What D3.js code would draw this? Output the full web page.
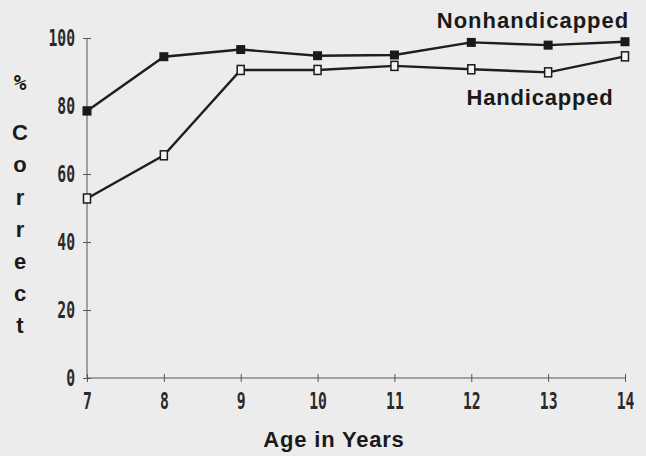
<!DOCTYPE html>
<html>
<head>
<meta charset="utf-8">
<script src="https://cdn.jsdelivr.net/npm/d3@7"></script>
<style>
  body { margin: 0; background: #ececec; }
  svg { display: block; }
</style>
</head>
<body>
<div id="chart"></div>
<script>
// data
var ages = [7, 8, 9, 10, 11, 12, 13, 14];
var nonhandicapped = [78.5, 94.5, 96.6, 94.8, 95.0, 98.7, 97.9, 98.9];
var handicapped = [52.8, 65.5, 90.6, 90.6, 91.8, 90.8, 89.9, 94.6];
var yTicks = [0, 20, 40, 60, 80, 100];
var yLetters = ["%", "C", "o", "r", "r", "e", "c", "t"];

var svgWidth = 646;
var svgHeight = 456;
var margin = { top: 38, right: 21, bottom: 78, left: 87 };
var width = svgWidth - margin.left - margin.right;
var height = svgHeight - margin.top - margin.bottom;

var svg = d3.select("#chart")
  .append("svg")
  .attr("width", svgWidth)
  .attr("height", svgHeight);

svg.append("rect")
  .attr("width", svgWidth)
  .attr("height", svgHeight)
  .attr("fill", "#ececec");

var chartGroup = svg.append("g")
  .attr("transform", `translate(${margin.left}, ${margin.top})`);

var xScale = d3.scaleLinear().domain([7, 14]).range([0, width]);
var yScale = d3.scaleLinear().domain([0, 100]).range([height, 0]);

var monoFont = "'DejaVu Sans Mono', monospace";
var boldFont = "Arial, 'Liberation Sans', sans-serif";
var squeeze = 0.64; // the old screen font is tall and narrow

// y axis
var yAxis = d3.axisLeft(yScale)
  .tickValues(yTicks)
  .tickFormat(d3.format("d"))
  .tickSize(4);
var yAxisG = chartGroup.append("g").call(yAxis);
yAxisG.select(".domain").attr("stroke", "#555").attr("d", `M0,${height}V0`);
yAxisG.selectAll(".tick line").attr("x1", -4).attr("x2", 4).attr("stroke", "#555");
yAxisG.selectAll(".tick text")
  .attr("font-family", monoFont)
  .attr("font-weight", "bold")
  .attr("font-size", "23px")
  .attr("fill", "#2a2a2a")
  .attr("x", -12 / squeeze)
  .attr("dy", "0.34em")
  .attr("transform", `scale(${squeeze},1)`);

// x axis
var xAxis = d3.axisBottom(xScale)
  .tickValues(ages)
  .tickFormat(d3.format("d"))
  .tickSize(4);
var xAxisG = chartGroup.append("g")
  .attr("transform", `translate(0, ${height})`)
  .call(xAxis);
xAxisG.select(".domain").attr("stroke", "#555").attr("d", `M0,0H${width}`);
xAxisG.selectAll(".tick line").attr("y1", -4).attr("y2", 4).attr("stroke", "#555");
xAxisG.selectAll(".tick text")
  .attr("font-family", monoFont)
  .attr("font-weight", "bold")
  .attr("font-size", "23px")
  .attr("fill", "#2a2a2a")
  .attr("y", 15)
  .attr("transform", `scale(${squeeze},1)`);

// lines
var line = d3.line()
  .x((d, i) => xScale(ages[i]))
  .y(d => yScale(d));

[nonhandicapped, handicapped].forEach(function(series) {
  chartGroup.append("path")
    .datum(series)
    .attr("d", line)
    .attr("fill", "none")
    .attr("stroke", "#1e1e1e")
    .attr("stroke-width", 2.4);
});

// markers
chartGroup.selectAll(".nh-mark")
  .data(nonhandicapped)
  .enter()
  .append("rect")
  .attr("class", "nh-mark")
  .attr("x", (d, i) => xScale(ages[i]) - 4.5)
  .attr("y", d => yScale(d) - 4.5)
  .attr("width", 9)
  .attr("height", 9)
  .attr("fill", "#1a1a1a");

chartGroup.selectAll(".h-mark")
  .data(handicapped)
  .enter()
  .append("rect")
  .attr("class", "h-mark")
  .attr("x", (d, i) => xScale(ages[i]) - 3.5)
  .attr("y", d => yScale(d) - 4.5)
  .attr("width", 7)
  .attr("height", 9)
  .attr("fill", "#f4f4f4")
  .attr("stroke", "#1a1a1a")
  .attr("stroke-width", 1.5);

// series labels
svg.append("text")
  .attr("x", 533)
  .attr("y", 28)
  .attr("text-anchor", "middle")
  .attr("font-family", boldFont)
  .attr("font-weight", "bold")
  .attr("font-size", "22px")
  .attr("letter-spacing", "1px")
  .attr("fill", "#1a1a1a")
  .text("Nonhandicapped");

svg.append("text")
  .attr("x", 540)
  .attr("y", 105)
  .attr("text-anchor", "middle")
  .attr("font-family", boldFont)
  .attr("font-weight", "bold")
  .attr("font-size", "22px")
  .attr("letter-spacing", "0.8px")
  .attr("fill", "#1a1a1a")
  .text("Handicapped");

// y title, one letter per row
svg.selectAll(".ylabel")
  .data(yLetters)
  .enter()
  .append("text")
  .attr("class", "ylabel")
  .attr("x", 20)
  .attr("y", (d, i) => i === 0 ? 90 : 108 + i * 32.2)
  .attr("text-anchor", "middle")
  .attr("font-family", d => d === "%" ? monoFont : boldFont)
  .attr("font-weight", "bold")
  .attr("font-size", d => d === "%" ? "21px" : "22px")
  .attr("fill", "#1a1a1a")
  .text(d => d);

// x title
svg.append("text")
  .attr("x", 334)
  .attr("y", 447)
  .attr("text-anchor", "middle")
  .attr("font-family", boldFont)
  .attr("font-weight", "bold")
  .attr("font-size", "22px")
  .attr("letter-spacing", "0.8px")
  .attr("fill", "#1a1a1a")
  .text("Age in Years");
</script>
</body>
</html>
